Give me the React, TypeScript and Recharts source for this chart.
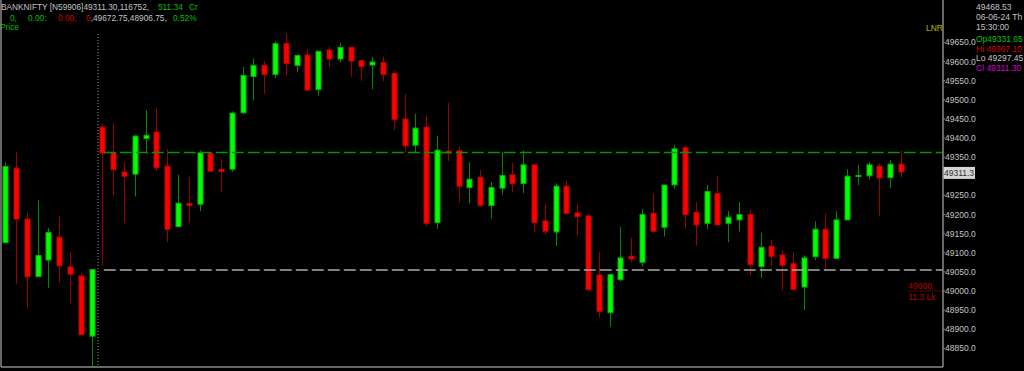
import { Bar, ComposedChart, ReferenceLine, XAxis, YAxis } from 'recharts';

// 5-minute BANKNIFTY candles: last 9 bars of 05-06-24, then the full session of 06-06-24
const opens = [
  49126.5, 49321, 49188, 49038, 49081, 49140.5, 49063, 49039, 48882,
  49428.5, 49361, 49311, 49305.5, 49399, 49415.5, 49326.4, 49168.4, 49228.6, 49226.9,
  49359.5, 49317.6, 49318.5, 49466, 49561, 49590, 49566.4, 49646.7, 49590, 49617,
  49527.1, 49630, 49606.5, 49637, 49602.2, 49590.8, 49596.9, 49569, 49449.4, 49381.3,
  49428.5, 49178.9, 49365.6, 49366.5, 49270.5, 49296.7, 49223.4, 49268.8, 49303.7, 49281,
  49329.9, 49183.2, 49154.4, 49274, 49204.2, 49196.3, 49041.9, 48943.3, 49029.7, 49090.8,
  49075, 49203.3, 49166.7, 49277.5, 49374.4, 49205, 49177.1, 49254.8, 49177.1, 49185.9,
  49199.8, 49063.7, 49116.9, 49094.2, 49071.5, 49010.5, 49089.9, 49161.4, 49085.5, 49185.9,
  49301, 49301.1, 49326.4, 49296.7, 49331.65,
];
const highs = [
  49336.8, 49363, 49205, 49238, 49165, 49195, 49102, 49048, 49057,
  49437, 49439, 49337, 49406, 49473, 49479, 49372, 49304, 49298.5, 49367.4,
  49361.3, 49343.8, 49469.5, 49585.5, 49607.4, 49601.3, 49653.6, 49672.75, 49617, 49632.7,
  49628.3, 49639.7, 49649.3, 49637.9, 49603, 49612.6, 49612.6, 49575, 49515.7, 49463.4,
  49458.1, 49405.8, 49492.2, 49377, 49336.8, 49316.8, 49285.3, 49363.9, 49334.2, 49367.4,
  49331, 49228.6, 49281, 49289.7, 49228.6, 49203.3, 49103, 49043.6, 49167.6, 49139.6,
  49214.7, 49254.8, 49277.5, 49381.3, 49381.3, 49233, 49277.5, 49301.1, 49209.4, 49233,
  49212, 49152.7, 49133.5, 49106.4, 49101.2, 49093.3, 49182.4, 49202.5, 49209.4, 49318.5,
  49329.9, 49336.8, 49333.3, 49342.1, 49367.1,
];
const lows = [
  49125, 49018, 48954, 49038, 49008, 49022, 48968, 48886, 48804,
  49067, 49250, 49177, 49247, 49361, 49314, 49128, 49168, 49179, 49208.6,
  49313, 49257.4, 49312.4, 49461.6, 49498.3, 49515.7, 49556.8, 49561.1, 49571.6, 49525,
  49510.5, 49585.6, 49597.8, 49560.2, 49549.8, 49527.1, 49548, 49420.6, 49362, 49362,
  49168.4, 49162.3, 49339.5, 49231.3, 49229.5, 49219, 49189.4, 49252.2, 49257.4, 49255.7,
  49152.7, 49147.5, 49117.8, 49200.7, 49144.9, 48997.4, 48931, 48906.75, 49025.3, 49075,
  49064.6, 49156, 49142.2, 49267.9, 49162.3, 49117.8, 49161.4, 49172.5, 49127.4, 49155.3,
  49041.9, 49034, 49065.5, 49001.7, 49004, 48950.3, 49081.2, 49055, 49085.5, 49185.5,
  49276.6, 49291.5, 49196.3, 49270.5, 49297.45,
];
const closes = [
  49325.5, 49188, 49037.5, 49093, 49153, 49066, 49044, 48886, 49056,
  49360.5, 49317, 49300, 49405, 49407, 49322, 49161.4, 49229.5, 49223.4, 49361.3,
  49313.3, 49312.4, 49465, 49563.7, 49590, 49566.4, 49646.7, 49595.2, 49616.1, 49525.3,
  49626.6, 49606.5, 49637, 49601.3, 49587.3, 49598.7, 49566.4, 49448.5, 49379.6, 49425.9,
  49177.1, 49368.3, 49360.4, 49274, 49292.3, 49224.3, 49270.5, 49301.9, 49281, 49329.9,
  49178.9, 49156.2, 49274, 49203.3, 49194.6, 49003.5, 48946.7, 49042.8, 49086.4, 49083.8,
  49199.8, 49156.2, 49277, 49371.7, 49199.8, 49172.8, 49260, 49172.8, 49192.8, 49199.8,
  49068.9, 49114.3, 49090.8, 49067.2, 49004.3, 49086.4, 49161.4, 49085.5, 49185.9, 49300.2,
  49302, 49329.9, 49295.8, 49331.6, 49311.3,
];

const priceTicks = [
  48850, 48900, 48950, 49000, 49050, 49100, 49150, 49200, 49250,
  49350, 49400, 49450, 49500, 49550, 49600, 49650,
];

const prevDayHigh = 49362;
const prevDayClose = 49055;
const lastPrice = 49311.3;
const sessionStart = 9;
const dayBreak = 8.46;

const X_DOMAIN: [number, number] = [-0.528, 86.77];
const Y_DOMAIN: [number, number] = [48801.3, 49760.8];

const FONT = '"Liberation Sans", Arial, sans-serif';
const GREY = '#c4c4c4';
const GREEN_TXT = '#00c000';
const RED_TXT = '#d00000';

const data = opens.map((open, i) => ({
  i,
  open,
  high: highs[i],
  low: lows[i],
  close: closes[i],
  range: [lows[i], highs[i]],
}));

function Candle(props: any) {
  const { x, y, width, height, payload } = props;
  if (!payload) return null;
  const { open, high, low, close } = payload;
  const up = close >= open;
  const top0 = Math.min(y, y + height);
  const h = Math.abs(height);
  const k = h / (high - low);
  const cx = Math.round(x + width / 2) - 0.5;
  const bTop = top0 + (high - Math.max(open, close)) * k;
  const bBot = top0 + (high - Math.min(open, close)) * k;
  return (
    <g>
      <line
        x1={cx}
        x2={cx}
        y1={top0}
        y2={top0 + h}
        stroke={up ? '#008a00' : '#9a0000'}
        strokeWidth={1}
      />
      <rect
        x={cx - 2.5}
        y={bTop}
        width={5}
        height={Math.max(bBot - bTop, 1)}
        fill={up ? '#00ff00' : '#ff0000'}
        stroke={up ? '#00b400' : '#c00000'}
        strokeWidth={1}
      />
    </g>
  );
}

function PriceTag(props: any) {
  const vb = props.viewBox;
  if (!vb) return null;
  const left = vb.x + vb.width;
  return (
    <g>
      <rect x={left} y={vb.y - 5} width={32} height={12} fill="#d4d4d4" />
      <text x={left + 1} y={vb.y + 4} fontSize={8.5} fontFamily={FONT} fill="#303030">
        {lastPrice.toFixed(1)}
      </text>
    </g>
  );
}

function StrikeTag(props: any) {
  const vb = props.viewBox;
  if (!vb) return null;
  return (
    <g fontSize={8.5} fontFamily={FONT} fill="#b80000">
      <text x={vb.x} y={vb.y - 1.5}>49000</text>
      <text x={vb.x} y={vb.y + 9.5}>11.3 Lk</text>
    </g>
  );
}

export default function App() {
  return (
    <div style={{ position: 'fixed', left: 0, top: 0, background: '#000' }}>
      <ComposedChart
        width={1024}
        height={371}
        data={data}
        margin={{ top: 0, right: 0, bottom: 0, left: 1 }}
        style={{ background: '#000' }}
      >
        <XAxis
          dataKey="i"
          type="number"
          domain={X_DOMAIN}
          allowDataOverflow
          height={4}
          tick={false}
          tickLine={false}
          axisLine={{ stroke: '#8a8a8a', strokeWidth: 1.5 }}
        />
        <YAxis
          orientation="right"
          type="number"
          domain={Y_DOMAIN}
          allowDataOverflow
          ticks={priceTicks}
          interval={0}
          width={81}
          tickSize={2}
          tickMargin={0}
          tickFormatter={(v: number) => v.toFixed(1)}
          tick={{ fill: GREY, fontSize: 8.5, fontFamily: FONT }}
          tickLine={{ stroke: '#8a8a8a' }}
          axisLine={{ stroke: '#8a8a8a', strokeWidth: 1.5 }}
        />
        <ReferenceLine x={X_DOMAIN[0]} stroke="#8a8a8a" strokeWidth={1.5} />
        <ReferenceLine
          segment={[
            { x: dayBreak, y: 49672 },
            { x: dayBreak, y: Y_DOMAIN[0] },
          ]}
          stroke="#9a9a9a"
          strokeDasharray="1 2"
        />
        <ReferenceLine
          segment={[
            { x: sessionStart, y: prevDayHigh },
            { x: X_DOMAIN[1], y: prevDayHigh },
          ]}
          stroke="#009600"
          strokeWidth={1.5}
          strokeDasharray="12 4"
        />
        <ReferenceLine
          segment={[
            { x: sessionStart, y: prevDayClose },
            { x: X_DOMAIN[1], y: prevDayClose },
          ]}
          stroke="#a8a8a8"
          strokeWidth={1.5}
          strokeDasharray="12 4"
        />
        <ReferenceLine
          segment={[
            { x: 83.55, y: 49000 },
            { x: X_DOMAIN[1], y: 49000 },
          ]}
          stroke="#b00000"
          strokeDasharray="1 1"
          label={<StrikeTag />}
        />
        <Bar
          dataKey="range"
          barSize={6}
          shape={<Candle />}
          isAnimationActive={false}
        />
        <ReferenceLine y={lastPrice} stroke="none" label={<PriceTag />} />

        <g fontFamily={FONT} fontSize={8.3}>
          <text x={1} y={10} fill={GREY}>
            BANKNIFTY [N59906]49311.30,116752,
          </text>
          <text y={10} fill={GREEN_TXT}>
            <tspan x={158}>511.34</tspan>
            <tspan x={189}>Cr</tspan>
          </text>
          <text y={21}>
            <tspan x={10} fill={GREEN_TXT}>0,</tspan>
            <tspan x={28} fill={GREEN_TXT}>0.00:</tspan>
            <tspan x={58} fill={RED_TXT}>0.00,</tspan>
            <tspan x={86} fill={RED_TXT}>0</tspan>
            <tspan fill={GREY}>,49672.75,48906.75,</tspan>
            <tspan x={173} fill={GREEN_TXT}>0.52%</tspan>
          </text>
          <text x={0} y={30} fill={GREEN_TXT}>Price</text>
        </g>

        <text x={926} y={31} fontFamily={FONT} fontSize={8.5} fill="#b4b400">LNR</text>

        <g fontFamily={FONT} fontSize={8.5}>
          <text x={976} y={10} fill={GREY}>49468.53</text>
          <text x={976} y={19.5} fill={GREY}>06-06-24 Th</text>
          <text x={976} y={29.5} fill={GREY}>15:30:00</text>
          <text x={976} y={42} fill={GREEN_TXT}>Op49331.65</text>
          <text x={976} y={51.5} fill={RED_TXT}>Hi 49367.10</text>
          <text x={976} y={61} fill={GREY}>Lo 49297.45</text>
          <text x={976} y={70.5} fill="#d000d0">Cl 49311.30</text>
        </g>
      </ComposedChart>
    </div>
  );
}
